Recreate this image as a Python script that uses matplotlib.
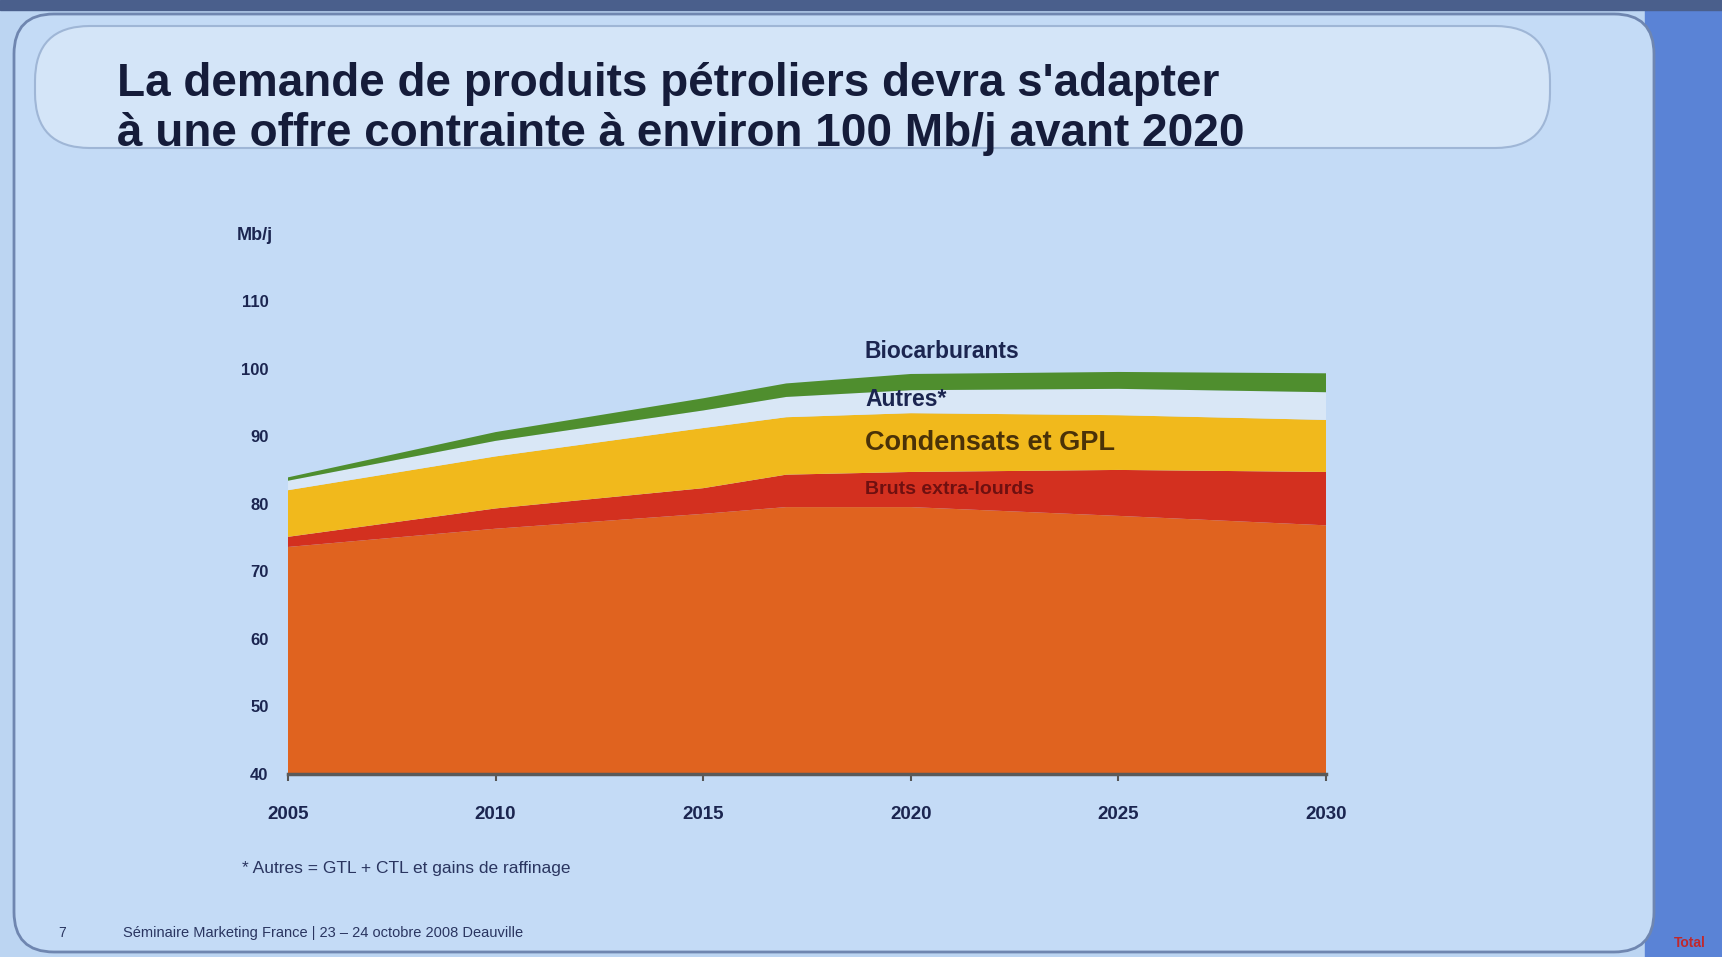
import numpy as np
import matplotlib.pyplot as plt
from matplotlib.patches import FancyBboxPatch, Rectangle

# données (Mb/j)
years = [2005, 2010, 2015, 2017, 2020, 2025, 2030]
bruts_conv = [73.6, 76.3, 78.5, 79.5, 79.5, 78.2, 76.8]
bruts_extra = [1.5, 3.0, 3.8, 4.8, 5.2, 6.8, 7.9]
condensats = [6.9, 7.7, 8.9, 8.5, 8.7, 8.1, 7.7]
autres = [1.4, 2.3, 2.6, 3.0, 3.4, 3.9, 4.1]
biocarb = [0.5, 1.3, 1.8, 2.0, 2.4, 2.5, 2.8]

x_ticks = [2005, 2010, 2015, 2020, 2025, 2030]
y_ticks = [40, 50, 60, 70, 80, 90, 100, 110]

layer_colors = ["#e0631f", "#d3301f", "#f1b91c", "#d9e7f6", "#4f8e2e"]
navy = "#1b2550"

plt.rcParams["font.family"] = ["Liberation Sans", "DejaVu Sans"]

fig = plt.figure(figsize=(17.22, 9.57), dpi=100)
fig.patch.set_facecolor("#bcd5f2")

# fond de la diapo
bg = fig.add_axes([0, 0, 1, 1], zorder=-10)
bg.set_xlim(0, 1722)
bg.set_ylim(957, 0)
bg.axis("off")
bg.add_patch(Rectangle((1645, 0), 77, 957, color="#5a83d6"))
bg.add_patch(Rectangle((0, 0), 1722, 10, color="#4a5f8c"))
bg.add_patch(FancyBboxPatch((14, 14), 1640, 938, boxstyle="round,pad=0,rounding_size=40",
                            fc="#c4dbf6", ec="#6f86b0", lw=2))
bg.add_patch(FancyBboxPatch((35, 26), 1515, 122, boxstyle="round,pad=0,rounding_size=55",
                            fc="#d4e5f8", ec="#9fb6d6", lw=1.5))

fig.text(117 / 1722, 1 - 84 / 957, "La demande de produits pétroliers devra s'adapter",
         fontsize=33, fontweight="bold", color="#151c3a", va="center", ha="left")
fig.text(117 / 1722, 1 - 134 / 957, "à une offre contrainte à environ 100 Mb/j avant 2020",
         fontsize=33, fontweight="bold", color="#151c3a", va="center", ha="left")

ax = fig.add_axes([288 / 1722, 1 - 774 / 957, (1326 - 288) / 1722, (774 - 301) / 957])
ax.set_facecolor("none")
ax.stackplot(years, bruts_conv, bruts_extra, condensats, autres, biocarb,
             colors=layer_colors, linewidth=0)
ax.set_xlim(2005, 2030)
ax.set_ylim(40, 110)
ax.set_xticks(x_ticks)
ax.set_yticks(y_ticks)
ax.set_xticklabels([str(v) for v in x_ticks], fontsize=13.5, fontweight="bold", color=navy)
ax.set_yticklabels([str(v) for v in y_ticks], fontsize=12, fontweight="bold", color=navy)
ax.tick_params(axis="x", length=5, width=1.5, color="#555", pad=18)
ax.tick_params(axis="y", length=0, pad=14)
for s in ["top", "right", "left"]:
    ax.spines[s].set_visible(False)
ax.spines["bottom"].set_color("#5a5a5a")
ax.spines["bottom"].set_linewidth(2.5)

fig.text(255 / 1722, 1 - 236 / 957, "Mb/j", fontsize=13, fontweight="bold", color=navy,
         ha="center", va="center")

# étiquettes des couches
fig.text(865 / 1722, 1 - 351 / 957, "Biocarburants", fontsize=16.5, fontweight="bold",
         color="#1b2550", va="center")
fig.text(865 / 1722, 1 - 399 / 957, "Autres*", fontsize=16.5, fontweight="bold",
         color="#1b2550", va="center")
fig.text(865 / 1722, 1 - 443 / 957, "Condensats et GPL", fontsize=19.5, fontweight="bold",
         color="#4a3208", va="center")
fig.text(865 / 1722, 1 - 490 / 957, "Bruts extra-lourds", fontsize=14, fontweight="bold",
         color="#6e1010", va="center")

fig.text(242 / 1722, 1 - 868 / 957, "* Autres = GTL + CTL et gains de raffinage",
         fontsize=12.5, color="#2a3560", va="center")
fig.text(58 / 1722, 1 - 933 / 957, "7", fontsize=10, color="#2a3560", va="center")
fig.text(123 / 1722, 1 - 933 / 957, "Séminaire Marketing France | 23 – 24 octobre 2008 Deauville",
         fontsize=10.5, color="#2a3560", va="center")
fig.text(1690 / 1722, 1 - 943 / 957, "Total", fontsize=10, fontweight="bold",
         color="#c0282d", va="center", ha="center")

fig.savefig("out.png", dpi=100, facecolor=fig.get_facecolor())
plt.close()
